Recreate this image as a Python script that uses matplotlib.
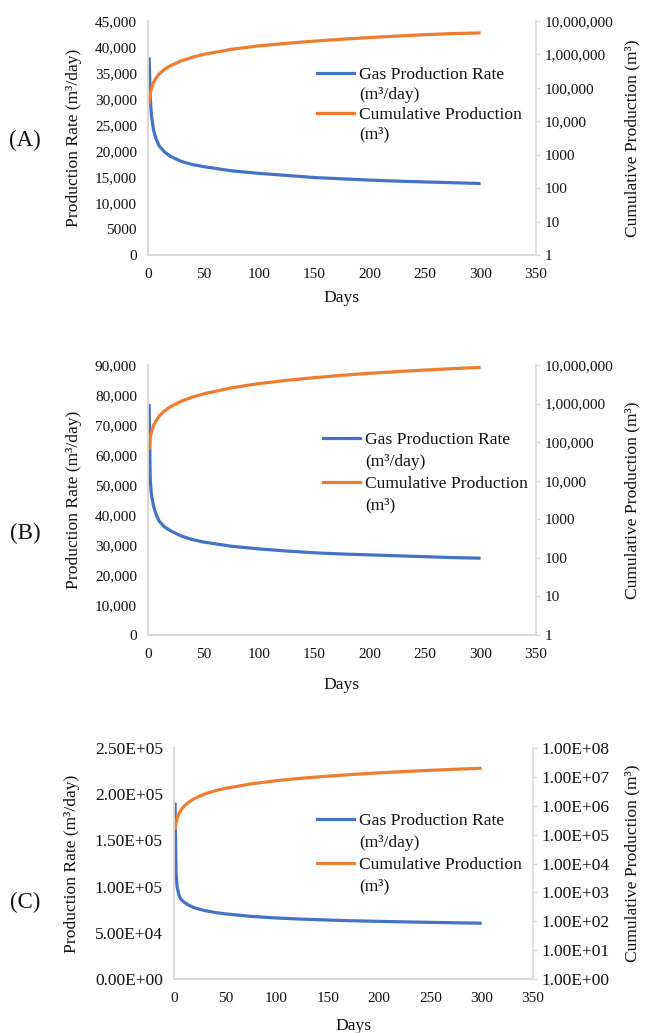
import matplotlib
matplotlib.use("Agg")
import matplotlib.pyplot as plt
from matplotlib.lines import Line2D
from matplotlib.ticker import FixedLocator, FixedFormatter, NullLocator

plt.rcParams['font.family'] = ['Liberation Serif', 'DejaVu Serif']

# ---------------- data ----------------
days = [1, 2, 3, 5, 7, 10, 15, 20, 30, 40, 50, 75, 100, 125, 150, 175, 200, 225, 250, 275, 300]

rate_a = [38000, 30500, 27000, 24000, 22500, 21000, 19800, 19000, 18000, 17400, 17000,
          16200, 15700, 15300, 14900, 14650, 14400, 14200, 14050, 13900, 13750]
cum_a = [3.2e4, 6.5e4, 9.3e4, 1.45e5, 1.9e5, 2.6e5, 3.6e5, 4.55e5, 6.4e5, 8.2e5, 1.0e6,
         1.42e6, 1.8e6, 2.15e6, 2.5e6, 2.85e6, 3.2e6, 3.55e6, 3.9e6, 4.2e6, 4.4e6]

rate_b = [77000, 52000, 47000, 43000, 40500, 38000, 36000, 34800, 33000, 31800, 31000,
          29600, 28700, 28000, 27400, 27000, 26700, 26400, 26100, 25800, 25600]
cum_b = [6.5e4, 1.25e5, 1.75e5, 2.7e5, 3.5e5, 4.7e5, 6.5e5, 8.2e5, 1.15e6, 1.47e6, 1.78e6,
         2.55e6, 3.3e6, 4.0e6, 4.7e6, 5.4e6, 6.1e6, 6.75e6, 7.4e6, 8.05e6, 8.7e6]

rate_c = [191000, 115000, 100000, 90000, 86000, 83000, 79500, 77000, 74000, 72000, 70500,
          67800, 66000, 64800, 63800, 63000, 62400, 61800, 61300, 60800, 60400]
cum_c = [1.45e5, 2.6e5, 3.6e5, 5.5e5, 7.3e5, 9.8e5, 1.38e6, 1.78e6, 2.55e6, 3.3e6, 4.0e6,
         5.7e6, 7.4e6, 9.0e6, 1.06e7, 1.22e7, 1.38e7, 1.53e7, 1.69e7, 1.84e7, 1.99e7]

x_ticks = [0, 50, 100, 150, 200, 250, 300, 350]
x_labels = ['0', '50', '100', '150', '200', '250', '300', '350']

left_ticks_a = [0, 5000, 10000, 15000, 20000, 25000, 30000, 35000, 40000, 45000]
left_labels_a = ['0', '5000', '10,000', '15,000', '20,000', '25,000', '30,000', '35,000', '40,000', '45,000']
left_ticks_b = [0, 10000, 20000, 30000, 40000, 50000, 60000, 70000, 80000, 90000]
left_labels_b = ['0', '10,000', '20,000', '30,000', '40,000', '50,000', '60,000', '70,000', '80,000', '90,000']
left_ticks_c = [0, 50000, 100000, 150000, 200000, 250000]
left_labels_c = ['0.00E+00', '5.00E+04', '1.00E+05', '1.50E+05', '2.00E+05', '2.50E+05']

right_ticks_ab = [1, 10, 100, 1e3, 1e4, 1e5, 1e6, 1e7]
right_labels_ab = ['1', '10', '100', '1000', '10,000', '100,000', '1,000,000', '10,000,000']
right_ticks_c = [1, 10, 100, 1e3, 1e4, 1e5, 1e6, 1e7, 1e8]
right_labels_c = ['1.00E+00', '1.00E+01', '1.00E+02', '1.00E+03', '1.00E+04',
                  '1.00E+05', '1.00E+06', '1.00E+07', '1.00E+08']

panel_names = ['(A)', '(B)', '(C)']
label_rate = 'Gas Production Rate'
label_rate2 = '(m³/day)'
label_cum = 'Cumulative Production'
label_cum2 = '(m³)'

# ---------------- style ----------------
BLUE = '#4472C4'
ORANGE = '#ED7D31'
SPINE = '#D9D9D9'
TXT = '#111111'
FS_TICK = 11
FS_LAB = 12.6

W, H = 645, 1033
fig = plt.figure(figsize=(W / 100, H / 100), dpi=100)


def px_axes(left, right, top, bottom):
    return fig.add_axes([left / W, 1 - bottom / H, (right - left) / W, (bottom - top) / H])


def make_panel(box, rate, cum, lt, ll, rt, rl, ylim_left, ylim_right,
               ylab_x, rlab_x, leg_xy, leg_spacing, days_pad, name, name_y, yfs):
    ax = px_axes(*box)
    ax2 = ax.twinx()
    ax.plot(days, rate, color=BLUE, lw=2.3, solid_capstyle='butt')
    ax2.plot(days, cum, color=ORANGE, lw=2.3, solid_capstyle='butt')

    ax.set_xlim(0, 350)
    ax.set_ylim(*ylim_left)
    ax2.set_yscale('log')
    ax2.set_ylim(*ylim_right)

    ax.xaxis.set_major_locator(FixedLocator(x_ticks))
    ax.xaxis.set_major_formatter(FixedFormatter(x_labels))
    ax.yaxis.set_major_locator(FixedLocator(lt))
    ax.yaxis.set_major_formatter(FixedFormatter(ll))
    ax2.yaxis.set_major_locator(FixedLocator(rt))
    ax2.yaxis.set_major_formatter(FixedFormatter(rl))
    ax2.yaxis.set_minor_locator(NullLocator())

    ax.tick_params(axis='x', length=0, pad=9, labelsize=FS_TICK, labelcolor=TXT)
    ax.tick_params(axis='y', length=0, pad=8, labelsize=yfs, labelcolor=TXT)
    ax2.tick_params(axis='y', length=3, width=1, color=SPINE, pad=3, labelsize=yfs, labelcolor=TXT)

    for a in (ax, ax2):
        a.spines['top'].set_visible(False)
        for s in ('left', 'right', 'bottom'):
            a.spines[s].set_color(SPINE)
            a.spines[s].set_linewidth(1.2)
    ax.spines['right'].set_visible(False)

    ax.set_xlabel('Days', fontsize=FS_LAB, color=TXT, labelpad=days_pad)
    ax.set_ylabel('Production Rate (m³/day)', fontsize=FS_LAB, color=TXT)
    ax.yaxis.set_label_coords(ylab_x, 0.5)
    ax2.set_ylabel('Cumulative Production (m³)', fontsize=FS_LAB, color=TXT, rotation=90)
    ax2.yaxis.set_label_coords(rlab_x, 0.5)

    blank = Line2D([], [], color='none')
    handles = [Line2D([], [], color=BLUE, lw=2.3), blank,
               Line2D([], [], color=ORANGE, lw=2.3), blank]
    labels = [label_rate, label_rate2, label_cum, label_cum2]
    leg = ax2.legend(handles, labels, loc='upper left', bbox_to_anchor=leg_xy,
                     frameon=False, fontsize=FS_LAB, borderpad=0, borderaxespad=0,
                     handlelength=2.1, handletextpad=0.3, labelspacing=leg_spacing)
    for t in leg.get_texts():
        t.set_color(TXT)

    fig.text(25 / W, 1 - name_y / H, name, fontsize=16.5, ha='center', va='center', color=TXT)
    return ax, ax2


make_panel((148, 536, 21, 255), rate_a, cum_a, left_ticks_a, left_labels_a,
           right_ticks_ab, right_labels_ab, (0, 45000), (1, 1e7),
           -0.170, 1.227, (0.4356, 0.803), 0.2, 7, panel_names[0], 140, FS_TICK)

make_panel((148, 536, 365, 635), rate_b, cum_b, left_ticks_b, left_labels_b,
           right_ticks_ab, right_labels_ab, (0, 90000), (1, 1e7),
           -0.170, 1.227, (0.451, 0.754), 0.33, 12, panel_names[1], 533, FS_TICK)

make_panel((174, 533, 748, 979), rate_c, cum_c, left_ticks_c, left_labels_c,
           right_ticks_c, right_labels_c, (0, 250000), (1, 1e8),
           -0.262, 1.255, (0.398, 0.721), 0.33, 10, panel_names[2], 902, 12.5)

fig.savefig('out.png', dpi=100)
